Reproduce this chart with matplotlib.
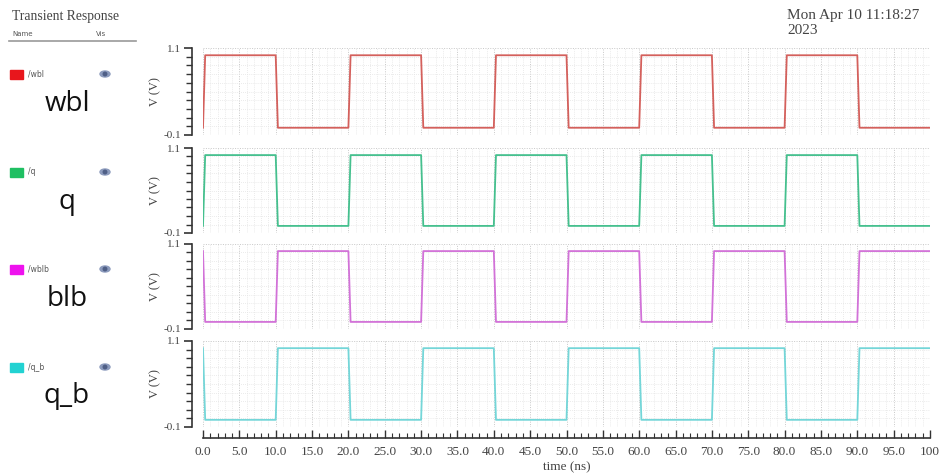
import matplotlib
import numpy as np

matplotlib.use("Agg")
import matplotlib.pyplot as plt
from matplotlib.patches import Ellipse, Rectangle


# transient data (ns, V)
time_ns = [0.0, 0.3, 10.0, 10.3, 20.0, 20.3, 30.0, 30.3, 40.0, 40.3, 50.0,
           50.3, 60.0, 60.3, 70.0, 70.3, 80.0, 80.3, 90.0, 90.3, 100.0]
wbl_v = [0.0, 1.0, 1.0, 0.0, 0.0, 1.0, 1.0, 0.0, 0.0, 1.0, 1.0,
         0.0, 0.0, 1.0, 1.0, 0.0, 0.0, 1.0, 1.0, 0.0, 0.0]
q_v = [0.0, 1.0, 1.0, 0.0, 0.0, 1.0, 1.0, 0.0, 0.0, 1.0, 1.0,
       0.0, 0.0, 1.0, 1.0, 0.0, 0.0, 1.0, 1.0, 0.0, 0.0]
wblb_v = [1.0, 0.0, 0.0, 1.0, 1.0, 0.0, 0.0, 1.0, 1.0, 0.0, 0.0,
          1.0, 1.0, 0.0, 0.0, 1.0, 1.0, 0.0, 0.0, 1.0, 1.0]
q_b_v = [1.0, 0.0, 0.0, 1.0, 1.0, 0.0, 0.0, 1.0, 1.0, 0.0, 0.0,
         1.0, 1.0, 0.0, 0.0, 1.0, 1.0, 0.0, 0.0, 1.0, 1.0]

signal_names = ["/wbl", "/q", "/wblb", "/q_b"]
big_labels = ["wbl", "q", "blb", "q_b"]
swatch_colors = ["#e8161c", "#1fbf62", "#ee12ee", "#22d2d2"]
line_colors = ["#d4605c", "#45c08e", "#d272d8", "#74d6d8"]
series = [wbl_v, q_v, wblb_v, q_b_v]

x_ticks = [0, 5, 10, 15, 20, 25, 30, 35, 40, 45, 50, 55, 60, 65, 70, 75, 80, 85, 90, 95, 100]
x_tick_labels = ["0.0", "5.0", "10.0", "15.0", "20.0", "25.0", "30.0", "35.0", "40.0",
                 "45.0", "50.0", "55.0", "60.0", "65.0", "70.0", "75.0", "80.0", "85.0",
                 "90.0", "95.0", "100"]

W, H = 940, 474
SERIF = "Liberation Serif"
plt.rcParams["font.family"] = SERIF

fig = plt.figure(figsize=(W / 100, H / 100), dpi=100, facecolor="white")

# panel boxes in pixels: (top, bottom)
panels_px = [(48, 135), (148, 233), (244, 329), (341, 427)]
left_px, right_px = 203, 930

axes = []
for i, (top, bottom) in enumerate(panels_px):
    ax = fig.add_axes([left_px / W, 1 - bottom / H, (right_px - left_px) / W, (bottom - top) / H])
    ax.plot(time_ns, series[i], color=line_colors[i], lw=1.3, zorder=3)
    ax.set_xlim(0, 100)
    ax.set_ylim(-0.1, 1.1)

    ax.set_yticks([-0.1, 1.1])
    ax.set_yticklabels(["-0.1", "1.1"])
    ax.set_yticks(np.linspace(-0.1, 1.1, 11), minor=True)
    ax.set_xticks(x_ticks)
    ax.set_xticks(np.arange(0, 101, 1), minor=True)

    ax.grid(which="major", color="#c8c8c8", lw=0.7, ls=(0, (1, 1.5)), zorder=0)
    ax.grid(which="minor", color="#e4e4e4", lw=0.6, ls=(0, (1, 1.5)), zorder=0)

    for name in ["top", "right", "bottom"]:
        ax.spines[name].set_visible(False)
    ax.spines["left"].set_position(("outward", 8))
    ax.spines["left"].set_color("#333333")
    ax.spines["left"].set_linewidth(1.2)
    ax.spines["left"].set_bounds(-0.1, 1.1)
    ax.tick_params(axis="y", which="major", direction="out", length=6, width=1.2,
                   color="#333333", pad=2, labelsize=8, labelcolor="#444444")
    ax.tick_params(axis="y", which="minor", direction="out", length=4, width=1.0,
                   color="#333333")
    ax.set_ylabel("V (V)", fontsize=9, color="#444444", labelpad=1)

    if i < 3:
        ax.tick_params(axis="x", which="both", length=0, labelbottom=False)
    else:
        ax.spines["bottom"].set_visible(True)
        ax.spines["bottom"].set_position(("outward", 8))
        ax.spines["bottom"].set_color("#333333")
        ax.spines["bottom"].set_linewidth(1.2)
        ax.tick_params(axis="x", which="major", direction="in", length=6, width=1.0,
                       color="#333333", pad=6, labelsize=9.5, labelcolor="#444444")
        ax.tick_params(axis="x", which="minor", direction="in", length=3.5, width=0.8,
                       color="#333333")
        ax.set_xticklabels(x_tick_labels)
        ax.set_xlabel("time (ns)", fontsize=9.5, color="#444444", labelpad=2)
    axes.append(ax)

fig.align_ylabels(axes)

# overlay in pixel coordinates for the name / vis column
over = fig.add_axes([0, 0, 1, 1], zorder=-1)
over.set_xlim(0, W)
over.set_ylim(H, 0)
over.axis("off")

over.text(12, 16, "Transient Response", fontsize=9.8, color="#444444",
          va="center", ha="left")
over.text(12, 34, "Name", fontfamily="DejaVu Sans", fontsize=5, color="#555555", va="center")
over.text(96, 34, "Vis", fontfamily="DejaVu Sans", fontsize=5, color="#555555", va="center")
over.plot([9, 136], [41, 41], color="#999999", lw=1.2)

over.text(787, 9, "Mon Apr 10 11:18:27\n2023", fontsize=11,
          color="#444444", va="top", ha="left", linespacing=1.2)

row_y = [74, 172, 269, 367]
label_y = [104, 202, 299, 396]
for i in range(4):
    y = row_y[i]
    over.add_patch(Rectangle((10, y - 4.5), 13, 9, color=swatch_colors[i]))
    over.text(28, y, signal_names[i], fontfamily="DejaVu Sans", fontsize=5.5,
              color="#555555", va="center")
    over.add_patch(Ellipse((105, y), 10, 6, color="#8c9bbd"))
    over.add_patch(Ellipse((105, y), 3.5, 3.5, color="#4f5f86"))
    over.text(67, label_y[i], big_labels[i], fontfamily="Open Sans", fontsize=20,
              color="#111111", va="center", ha="center")

fig.savefig("out.png", dpi=100, facecolor="white")
